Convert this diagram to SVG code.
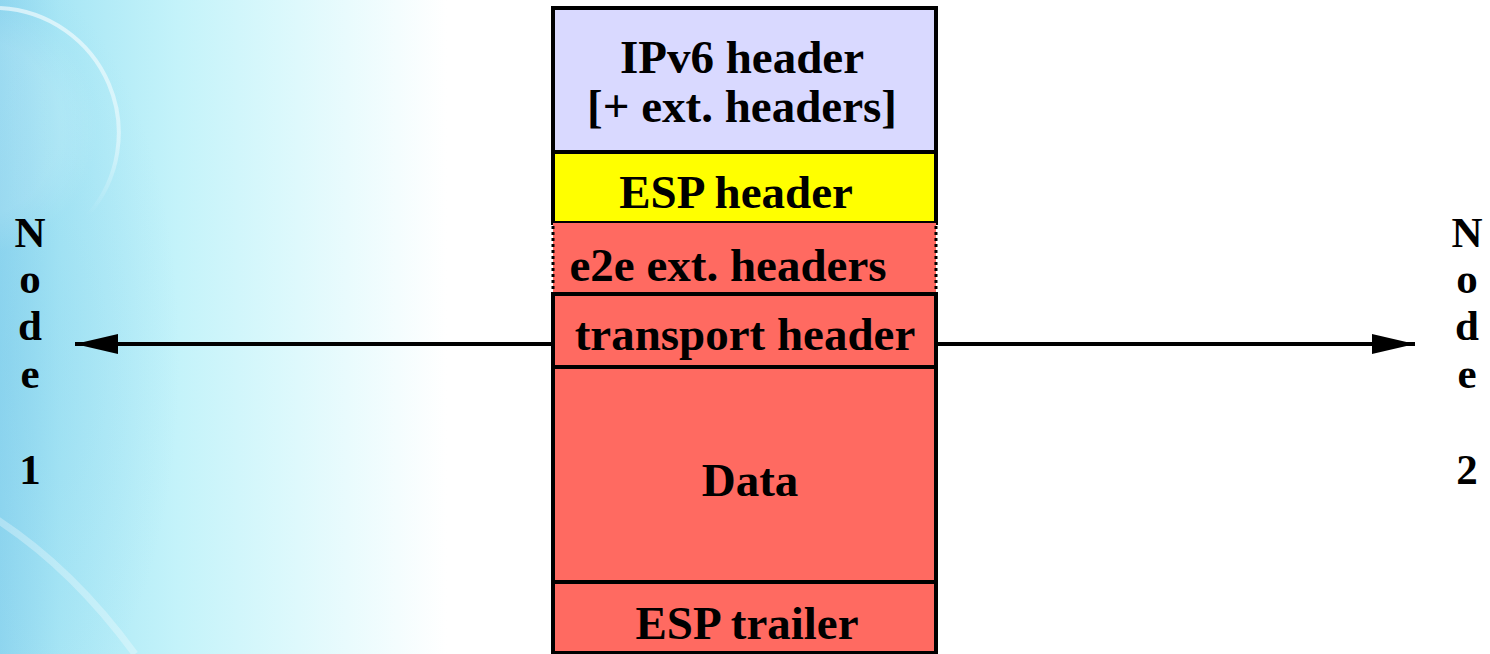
<svg xmlns="http://www.w3.org/2000/svg" width="1490" height="654" viewBox="0 0 1490 654">
<style>
.t{font-family:"Liberation Serif","Times New Roman",serif;font-weight:bold;font-size:47px;fill:#000;text-anchor:middle}
.n{font-family:"Liberation Serif","Times New Roman",serif;font-weight:bold;font-size:43px;fill:#000;text-anchor:middle}
.box{stroke:#000;stroke-width:4}
.red{fill:#ff6a61}
.conn{stroke:#000;stroke-width:4;fill:none}
.dot{stroke:#000;stroke-width:3;stroke-dasharray:3,3}
</style>
<defs>
<linearGradient id="bg" x1="0" y1="0" x2="1" y2="0" gradientUnits="objectBoundingBox">
<stop offset="0" stop-color="#90d6ef"/>
<stop offset="0.04" stop-color="#a8e6f5"/>
<stop offset="0.12" stop-color="#c4f3fa"/>
<stop offset="0.2" stop-color="#def9fc"/>
<stop offset="0.3" stop-color="#ffffff"/>
<stop offset="1" stop-color="#ffffff"/>
</linearGradient>
<radialGradient id="glow" cx="0" cy="0.55" r="0.6">
<stop offset="0" stop-color="#7fcdeb" stop-opacity="0.35"/>
<stop offset="1" stop-color="#7fcdeb" stop-opacity="0"/>
</radialGradient>
<radialGradient id="moon" cx="0.5" cy="0.5" r="0.5">
<stop offset="0.7" stop-color="#ffffff" stop-opacity="0.12"/>
<stop offset="1" stop-color="#ffffff" stop-opacity="0"/>
</radialGradient>
<linearGradient id="arcfade" x1="0" y1="0" x2="0" y2="1">
<stop offset="0" stop-color="#ffffff" stop-opacity="0.6"/>
<stop offset="0.65" stop-color="#ffffff" stop-opacity="0.45"/>
<stop offset="1" stop-color="#ffffff" stop-opacity="0"/>
</linearGradient>
<marker id="ah" viewBox="0 0 43 20" refX="43" refY="10" markerWidth="43" markerHeight="20" markerUnits="userSpaceOnUse" orient="auto">
<path d="M0,0 L43,10 L0,20 Z" fill="#000"/>
</marker>
</defs>
<g id="background">
<rect x="0" y="0" width="1490" height="654" fill="url(#bg)"/>
<rect x="0" y="0" width="300" height="654" fill="url(#glow)"/>
<circle cx="-30" cy="128" r="128" fill="url(#moon)"/>
<path d="M0,8 A125,125 0 0 1 88,215" fill="none" stroke="url(#arcfade)" stroke-width="4"/>
<path d="M-10,515 Q70,565 135,654" fill="none" stroke="#ffffff" stroke-opacity="0.3" stroke-width="7"/>
</g>
<g id="connectors">
<line class="conn" x1="553" y1="344" x2="75" y2="344" marker-end="url(#ah)"/>
<line class="conn" x1="936" y1="344" x2="1415" y2="344" marker-end="url(#ah)"/>
</g>
<g id="ipv6-header">
<rect class="box" x="553" y="8" width="383" height="144" fill="#d9d9ff"/>
<text class="t" x="742" y="73">IPv6 header</text>
<text class="t" x="742" y="122">[+ ext. headers]</text>
</g>
<g id="esp-header">
<rect class="box" x="553" y="152" width="383" height="71" fill="#ffff00"/>
<text class="t" x="736" y="208">ESP header</text>
</g>
<g id="e2e-ext-headers">
<rect class="red" x="553" y="223" width="383" height="71"/>
<line class="dot" x1="553" y1="226" x2="553" y2="292"/>
<line class="dot" x1="936" y1="226" x2="936" y2="292"/>
<text class="t" x="728" y="281">e2e ext. headers</text>
</g>
<g id="transport-header">
<rect class="box red" x="553" y="294" width="383" height="73"/>
<text class="t" x="745" y="350">transport header</text>
</g>
<g id="data">
<rect class="box red" x="553" y="367" width="383" height="215"/>
<text class="t" x="750" y="496">Data</text>
</g>
<g id="esp-trailer">
<rect class="box red" x="553" y="582" width="383" height="71"/>
<text class="t" x="747" y="639">ESP trailer</text>
</g>
<g id="node1">
<text class="n" x="30" y="247">N</text>
<text class="n" x="30" y="293">o</text>
<text class="n" x="30" y="340">d</text>
<text class="n" x="30" y="388">e</text>
<text class="n" x="30" y="484">1</text>
</g>
<g id="node2">
<text class="n" x="1467" y="247">N</text>
<text class="n" x="1467" y="293">o</text>
<text class="n" x="1467" y="340">d</text>
<text class="n" x="1467" y="388">e</text>
<text class="n" x="1467" y="484">2</text>
</g>
</svg>
